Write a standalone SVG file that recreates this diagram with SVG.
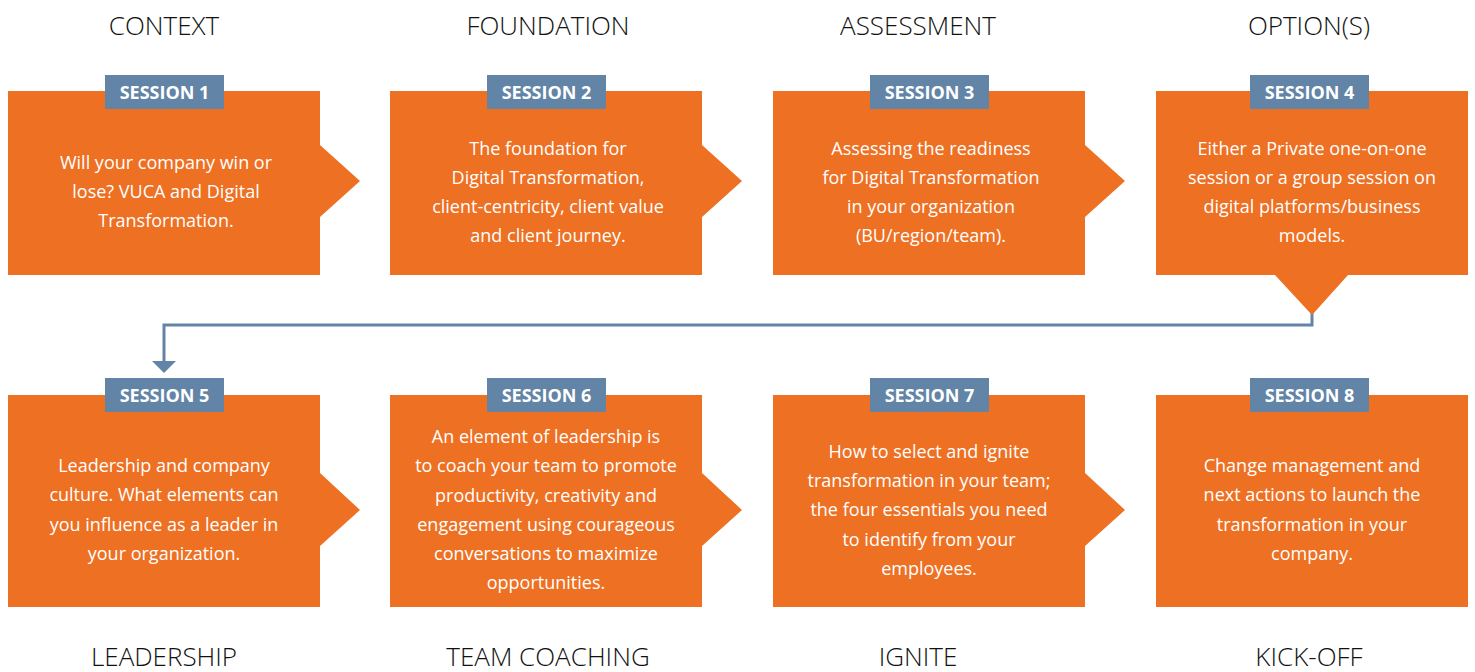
<svg xmlns="http://www.w3.org/2000/svg" width="1475" height="672" viewBox="0 0 1475 672">
<style>
.box{fill:#EE7023}
.tag{fill:#6284A6}
.head{font-family:"Open Sans","Liberation Sans",sans-serif;font-weight:300;font-size:26px;fill:#111;text-anchor:middle}
.tagt{font-family:"Open Sans","Liberation Sans",sans-serif;font-weight:700;font-size:18px;fill:#fff;text-anchor:middle}
.body{font-family:"Open Sans","Liberation Sans",sans-serif;font-weight:400;font-size:18px;fill:#fff;text-anchor:middle}
.conn{fill:none;stroke:#6284A6;stroke-width:3}
.ahead{fill:#6284A6}
</style>

<g id="headers">
<text class="head" x="164" y="35">CONTEXT</text>
<text class="head" x="548" y="35">FOUNDATION</text>
<text class="head" x="918" y="35">ASSESSMENT</text>
<text class="head" x="1309" y="35">OPTION(S)</text>
<text class="head" x="164" y="666">LEADERSHIP</text>
<text class="head" x="548" y="666">TEAM COACHING</text>
<text class="head" x="918" y="666">IGNITE</text>
<text class="head" x="1309" y="666">KICK-OFF</text>
</g>

<g id="connectors">
<path class="conn" d="M1312,313 V325 H164 V362"/>
<path class="ahead" d="M152,361 L176,361 L164,373 Z"/>
</g>

<g id="session1">
<path class="box" d="M8,91 H320 V145 L360,181 L320,217 V275 H8 Z"/>
<rect class="tag" x="105" y="75" width="119" height="34"/>
<text class="tagt" x="164.5" y="99">SESSION 1</text>
<text class="body"><tspan x="166" y="169">Will your company win or</tspan><tspan x="166" y="198">lose? VUCA and Digital</tspan><tspan x="166" y="227">Transformation.</tspan></text>
</g>

<g id="session2">
<path class="box" d="M390,91 H702 V145 L742,181 L702,217 V275 H390 Z"/>
<rect class="tag" x="487" y="75" width="119" height="34"/>
<text class="tagt" x="546.5" y="99">SESSION 2</text>
<text class="body"><tspan x="548" y="155">The foundation for</tspan><tspan x="548" y="184">Digital Transformation,</tspan><tspan x="548" y="213">client-centricity, client value</tspan><tspan x="548" y="242">and client journey.</tspan></text>
</g>

<g id="session3">
<path class="box" d="M773,91 H1085 V145 L1125,181 L1085,217 V275 H773 Z"/>
<rect class="tag" x="870" y="75" width="119" height="34"/>
<text class="tagt" x="929.5" y="99">SESSION 3</text>
<text class="body"><tspan x="931" y="155">Assessing the readiness</tspan><tspan x="931" y="184">for Digital Transformation</tspan><tspan x="931" y="213">in your organization</tspan><tspan x="931" y="242">(BU/region/team).</tspan></text>
</g>

<g id="session4">
<path class="box" d="M1156,91 H1468 V275 H1348 L1312,315 L1275,275 H1156 Z"/>
<rect class="tag" x="1250" y="75" width="119" height="34"/>
<text class="tagt" x="1309.5" y="99">SESSION 4</text>
<text class="body"><tspan x="1312" y="155">Either a Private one-on-one</tspan><tspan x="1312" y="184">session or a group session on</tspan><tspan x="1312" y="213">digital platforms/business</tspan><tspan x="1312" y="242">models.</tspan></text>
</g>

<g id="session5">
<path class="box" d="M8,395 H320 V473 L360,510 L320,546 V607 H8 Z"/>
<rect class="tag" x="105" y="378" width="119" height="34"/>
<text class="tagt" x="164.5" y="402">SESSION 5</text>
<text class="body"><tspan x="164" y="472">Leadership and company</tspan><tspan x="164" y="501">culture. What elements can</tspan><tspan x="164" y="531">you influence as a leader in</tspan><tspan x="164" y="560">your organization.</tspan></text>
</g>

<g id="session6">
<path class="box" d="M390,395 H702 V473 L742,510 L702,546 V607 H390 Z"/>
<rect class="tag" x="487" y="378" width="119" height="34"/>
<text class="tagt" x="546.5" y="402">SESSION 6</text>
<text class="body"><tspan x="546" y="443">An element of leadership is</tspan><tspan x="546" y="472">to coach your team to promote</tspan><tspan x="546" y="502">productivity, creativity and</tspan><tspan x="546" y="531">engagement using courageous</tspan><tspan x="546" y="560">conversations to maximize</tspan><tspan x="546" y="589">opportunities.</tspan></text>
</g>

<g id="session7">
<path class="box" d="M773,395 H1085 V473 L1125,510 L1085,546 V607 H773 Z"/>
<rect class="tag" x="870" y="378" width="119" height="34"/>
<text class="tagt" x="929.5" y="402">SESSION 7</text>
<text class="body"><tspan x="929" y="458">How to select and ignite</tspan><tspan x="929" y="487">transformation in your team;</tspan><tspan x="929" y="516">the four essentials you need</tspan><tspan x="929" y="546">to identify from your</tspan><tspan x="929" y="575">employees.</tspan></text>
</g>

<g id="session8">
<path class="box" d="M1156,395 H1468 V607 H1156 Z"/>
<rect class="tag" x="1250" y="378" width="119" height="34"/>
<text class="tagt" x="1309.5" y="402">SESSION 8</text>
<text class="body"><tspan x="1312" y="472">Change management and</tspan><tspan x="1312" y="501">next actions to launch the</tspan><tspan x="1312" y="531">transformation in your</tspan><tspan x="1312" y="560">company.</tspan></text>
</g>
</svg>
